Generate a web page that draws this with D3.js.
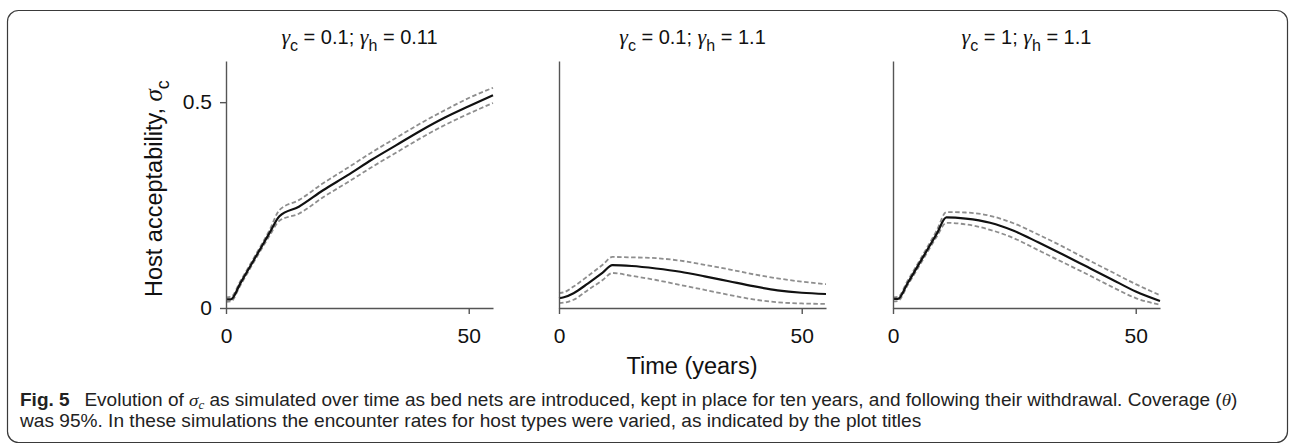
<!DOCTYPE html>
<html>
<head>
<meta charset="utf-8">
<script src="https://cdn.jsdelivr.net/npm/d3@7"></script>
<style>
  body { margin: 0; background: #fff; }
  svg { display: block; }
  .plot text { font-family: "Liberation Sans", Arial, sans-serif; fill: #111; }
  .caption { font-family: "Liberation Sans", Arial, sans-serif; fill: #222; }
  .greek { font-family: "Liberation Serif", "DejaVu Serif", serif; font-style: italic; }
</style>
</head>
<body>
<svg id="chart" width="1292" height="444"></svg>
<script>
// time points (years) shared by every panel
var years = [0, 1, 3, 6, 9, 11, 15, 20, 25, 30, 35, 40, 45, 50, 55];

// panel titles: [gamma_c, gamma_h]
var gammaC = ["0.1", "0.1", "1"];
var gammaH = ["0.11", "1.1", "1.1"];

// host acceptability sigma_c, mean and the two dashed bounds
var meanP1  = [0.021, 0.021, 0.061, 0.122, 0.183, 0.223, 0.246, 0.286, 0.322, 0.360, 0.395, 0.430, 0.462, 0.490, 0.517];
var upperP1 = [0.026, 0.027, 0.066, 0.127, 0.190, 0.238, 0.262, 0.303, 0.340, 0.378, 0.413, 0.448, 0.480, 0.510, 0.535];
var lowerP1 = [0.015, 0.016, 0.056, 0.117, 0.176, 0.212, 0.229, 0.269, 0.305, 0.342, 0.377, 0.412, 0.444, 0.472, 0.498];

var meanP2  = [0.024, 0.026, 0.036, 0.060, 0.086, 0.104, 0.102, 0.096, 0.088, 0.077, 0.065, 0.053, 0.043, 0.037, 0.034];
var upperP2 = [0.036, 0.038, 0.052, 0.078, 0.105, 0.124, 0.123, 0.121, 0.115, 0.105, 0.094, 0.082, 0.072, 0.064, 0.058];
var lowerP2 = [0.012, 0.013, 0.020, 0.044, 0.068, 0.085, 0.078, 0.068, 0.056, 0.044, 0.032, 0.021, 0.014, 0.011, 0.010];

var meanP3  = [0.022, 0.022, 0.060, 0.120, 0.180, 0.220, 0.217, 0.207, 0.187, 0.159, 0.130, 0.100, 0.070, 0.040, 0.017];
var upperP3 = [0.026, 0.027, 0.066, 0.126, 0.188, 0.233, 0.232, 0.224, 0.205, 0.178, 0.149, 0.118, 0.088, 0.058, 0.031];
var lowerP3 = [0.016, 0.017, 0.055, 0.114, 0.173, 0.207, 0.203, 0.190, 0.169, 0.140, 0.111, 0.082, 0.052, 0.024, 0.008];

var xTicks = [0, 50];
var yTicks = [0, 0.5];

var panels = [
  {mean: meanP1, upper: upperP1, lower: lowerP1},
  {mean: meanP2, upper: upperP2, lower: lowerP2},
  {mean: meanP3, upper: upperP3, lower: lowerP3}
];

var svg = d3.select("#chart");

// frame round figure + caption
svg.append("rect")
  .attr("x", 7.5).attr("y", 10.5)
  .attr("width", 1280).attr("height", 432)
  .attr("rx", 11)
  .attr("fill", "none")
  .attr("stroke", "#3a3a3a")
  .attr("stroke-width", 1.2);

var plotTop = 61, plotBottom = 308, plotW = 267;
var lefts = [226, 559, 893];

var y = d3.scaleLinear().domain([0, 0.6]).range([plotBottom, plotTop]);

panels.forEach(function(p, i){
  var g = svg.append("g").attr("class", "plot");
  var x = d3.scaleLinear().domain([0, 55]).range([lefts[i], lefts[i] + plotW]);

  var line = function(vals){
    return d3.line()
      .x(function(d, k){ return x(years[k]); })
      .y(function(d){ return y(d); })
      .curve(d3.curveMonotoneX)(vals);
  };

  // dashed bounds first, mean on top
  [p.upper, p.lower].forEach(function(vals){
    g.append("path")
      .attr("d", line(vals))
      .attr("fill", "none")
      .attr("stroke", "#8e8e8e")
      .attr("stroke-width", 1.8)
      .attr("stroke-dasharray", "4.5,2.5");
  });
  g.append("path")
    .attr("d", line(p.mean))
    .attr("fill", "none")
    .attr("stroke", "#111")
    .attr("stroke-width", 2.2);

  // axes
  var xAxis = g.append("g")
    .attr("transform", "translate(0," + plotBottom + ")")
    .call(d3.axisBottom(x).tickValues(xTicks).tickSize(6).tickSizeOuter(0).tickPadding(14).tickFormat(String));
  var yAxis = g.append("g")
    .attr("transform", "translate(" + lefts[i] + ",0)")
    .call(d3.axisLeft(y).tickValues(i === 0 ? yTicks : []).tickSize(6).tickSizeOuter(0).tickPadding(8).tickFormat(String));

  [xAxis, yAxis].forEach(function(a){
    a.select(".domain").attr("stroke", "#555").attr("stroke-width", 1.4);
    a.selectAll(".tick line").attr("stroke", "#555").attr("stroke-width", 1.4);
    a.selectAll(".tick text")
      .attr("font-size", 21)
      .attr("font-family", "Liberation Sans, Arial, sans-serif")
      .attr("fill", "#111");
  });

  // title  γc = ..; γh = ..
  var t = g.append("text")
    .attr("x", lefts[i] + plotW / 2)
    .attr("y", 44)
    .attr("text-anchor", "middle")
    .attr("font-size", 20);
  t.append("tspan").attr("class", "greek").attr("font-size", 22).text("\u03b3");
  t.append("tspan").attr("font-size", 16).attr("dy", 7).text("c");
  t.append("tspan").attr("dy", -7).text(" = " + gammaC[i] + "; ");
  t.append("tspan").attr("class", "greek").attr("font-size", 22).text("\u03b3");
  t.append("tspan").attr("font-size", 16).attr("dy", 7).text("h");
  t.append("tspan").attr("dy", -7).text(" = " + gammaH[i]);
});

// axis titles
var xl = svg.append("g").attr("class", "plot");
xl.append("text")
  .attr("x", 692).attr("y", 374)
  .attr("text-anchor", "middle")
  .attr("font-size", 23.5)
  .text("Time (years)");

var yl = xl.append("text")
  .attr("transform", "translate(162,297) rotate(-90)")
  .attr("font-size", 23.5);
yl.append("tspan").text("Host acceptability, ");
yl.append("tspan").attr("class", "greek").attr("font-size", 25).text("\u03c3");
yl.append("tspan").attr("font-size", 18).attr("dy", 7).text("c");

// caption, squeezed sideways to the width of the condensed original
function squeeze(sel, left, base, target){
  var w = sel.node().getBBox().width;
  sel.attr("transform", "translate(" + left + "," + base + ") scale(" + (target / w) + ",1)");
}

var cap1 = svg.append("text")
  .attr("class", "caption")
  .attr("font-size", 17.5);
cap1.append("tspan").attr("font-weight", "bold").text("Fig. 5");
cap1.append("tspan").text("\u2002 Evolution of ");
cap1.append("tspan").attr("class", "greek").text("\u03c3");
cap1.append("tspan").attr("class", "greek").attr("font-size", 12).attr("dy", 3).text("c");
cap1.append("tspan").attr("dy", -3).text(" as simulated over time as bed nets are introduced, kept in place for ten years, and following their withdrawal. Coverage (");
cap1.append("tspan").attr("class", "greek").text("\u03b8");
cap1.append("tspan").text(")");
squeeze(cap1, 20, 406, 1218);

var cap2 = svg.append("text")
  .attr("class", "caption")
  .attr("font-size", 17.5)
  .text("was 95%. In these simulations the encounter rates for host types were varied, as indicated by the plot titles");
squeeze(cap2, 20, 427, 903);
</script>
</body>
</html>
